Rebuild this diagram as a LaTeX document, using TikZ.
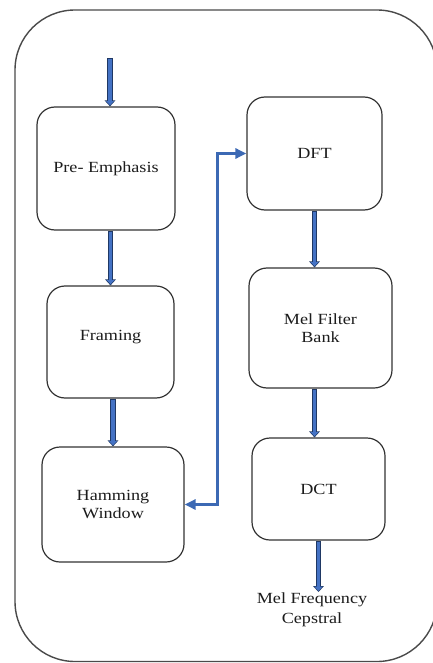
\documentclass[tikz,border=0pt]{standalone}
\usepackage{fontspec}
\setmainfont[FakeStretch=1.17]{Liberation Serif}
\usetikzlibrary{arrows.meta,calc}
\definecolor{arrowblue}{HTML}{4472C4}
\definecolor{arrowedge}{HTML}{1F3864}
\definecolor{linkblue}{HTML}{3C69B4}
\definecolor{boxline}{HTML}{333333}
\definecolor{outerline}{HTML}{4A4A4A}
\definecolor{txt}{HTML}{1C1C1C}
\newcommand{\blockarr}[2]{%
  \draw[arrowedge, line width=5.6pt, -{Triangle[length=6pt,width=10.5pt]}] #1 -- #2;
  \draw[arrowblue, line width=3.6pt, shorten <=1pt, shorten >=1.1pt, -{Triangle[length=4.2pt,width=7.6pt]}] #1 -- #2;}
\begin{document}
\begin{tikzpicture}[x=1pt,y=-1pt,
  stage/.style={draw=boxline, line width=1.2pt, rounded corners=18pt, text=txt,
    font=\fontsize{15.5}{18}\selectfont, align=center, inner sep=0pt},
  outtext/.style={text=txt, font=\fontsize{15.5}{19.5}\selectfont, align=center, inner sep=1pt}]
\useasboundingbox (0,0) rectangle (433,663);
\draw[outerline, line width=1.4pt, rounded corners=60pt] (15,10) rectangle (437,661.5);

\node[stage, minimum width=138pt, minimum height=123pt] (pre) at (106,168.5) {Pre- Emphasis};
\node[stage, minimum width=127pt, minimum height=112pt] (fram) at (110.5,342) {Framing\\[-4pt]\mbox{}};
\node[stage, minimum width=142pt, minimum height=115pt] (ham) at (113,504.5) {Hamming\\Window};
\node[stage, minimum width=135pt, minimum height=113pt] (dft) at (314.5,153.5) {DFT};
\node[stage, minimum width=143pt, minimum height=120pt] (mel) at (320.5,328) {Mel Filter\\Bank};
\node[stage, minimum width=133pt, minimum height=102pt] (dct) at (318.5,489) {DCT};
\node[outtext] (mfc) at (312,610) {Mel Frequency\\Cepstral};
\coordinate (in) at (110,58);

\blockarr{(in)}{(in |- pre.north)}
\blockarr{(fram.north |- pre.south)}{(fram.north)}
\blockarr{(ham.north |- fram.south)}{(ham.north)}
\blockarr{(dft.south)}{(dft.south |- mel.north)}
\blockarr{(dft.south |- mel.south)}{(dft.south |- dct.north)}
\blockarr{(dct.south)}{(dct.south |- mfc.north)}

\draw[linkblue, line width=3pt, {Triangle[length=11pt,width=10pt]}-{Triangle[length=11pt,width=10pt]}]
  (ham.east) -- ++(33,0) |- (dft.west);
\end{tikzpicture}
\end{document}
